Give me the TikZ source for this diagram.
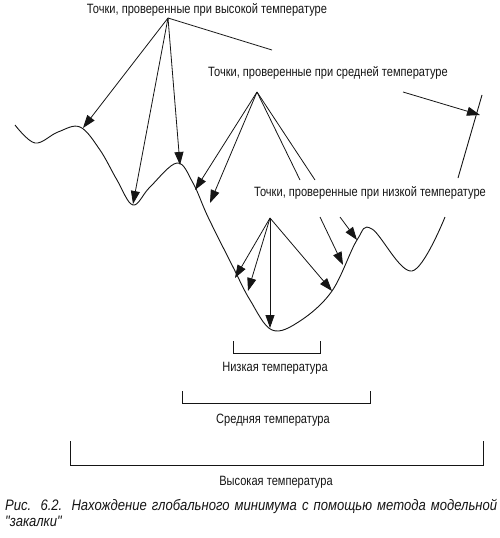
\documentclass[tikz,border=0pt]{standalone}
\usepackage{fontspec}
\setmainfont{Liberation Sans}[FakeStretch=0.82]
\newfontfamily\annealCaptionFont{Liberation Sans}[FakeStretch=0.86]
\usetikzlibrary{arrows.meta}
\definecolor{AnnealInk}{HTML}{151515}

\begin{document}
\begin{tikzpicture}[x=1pt,y=-1pt,
    probe/.style={AnnealInk,line width=0.8pt,-{Triangle[length=13pt,width=9pt]}},
    stub/.style={AnnealInk,line width=0.8pt},
    landscape/.style={AnnealInk,line width=0.9pt},
    span/.style={AnnealInk,line width=0.8pt},
    tag/.style={text=AnnealInk,inner sep=0pt,font=\fontsize{13.5}{15}\selectfont}]

        \useasboundingbox (0,0) rectangle (500,538);

        \draw[landscape] plot[smooth,tension=0.6] coordinates {
          (15,125) (35,143) (58,132) (80,127) (100,150) (117,180) (133,205)
          (150,187) (177,163) (193,183) (208,217) (233,267) (250,300)
          (272,330) (300,321) (332,291) (357,240) (372,229) (412,271)
          (445,217)};
        \draw[landscape] (458,178) -- (482,95);

        \node[tag] (hightxt) at (207,10) {Точки, проверенные при высокой температуре};
        \node[tag] (midtxt) at (328,73) {Точки, проверенные при средней температуре};
        \node[tag] (lowtxt) at (370,193) {Точки, проверенные при низкой температуре};

        \coordinate (highapex) at (168,18);
        \coordinate (midapex) at (257,92);
        \coordinate (lowapex) at (270,218);

        \coordinate (highpeak) at (83,128);
        \coordinate (highpit) at (133,204);
        \coordinate (highhill) at (180,165);
        \coordinate (highend) at (272,50);
        \draw[probe] (highapex) -- (highpeak);
        \draw[probe] (highapex) -- (highpit);
        \draw[probe] (highapex) -- (highhill);
        \draw[stub] (highapex) -- (highend);

        \coordinate (midslopeA) at (195,190);
        \coordinate (midslopeB) at (210,203);
        \coordinate (midendA) at (300,180);
        \coordinate (midendB) at (315,180);
        \coordinate (midfarA) at (403,92);
        \coordinate (midfarB) at (480,115);
        \draw[probe] (midapex) -- (midslopeA);
        \draw[probe] (midapex) -- (midslopeB);
        \draw[stub] (midapex) -- (midendA);
        \draw[stub] (midapex) -- (midendB);
        \draw[probe] (midfarA) -- (midfarB);

        \coordinate (lowslopeA) at (235,278);
        \coordinate (lowslopeB) at (248,291);
        \coordinate (lowbottom) at (270,328);
        \coordinate (lowrise) at (332,291);
        \coordinate (lowfarA) at (320,217);
        \coordinate (lowfarAtip) at (343,265);
        \coordinate (lowfarB) at (340,217);
        \coordinate (lowfarBtip) at (357,240);
        \draw[probe] (lowapex) -- (lowslopeA);
        \draw[probe] (lowapex) -- (lowslopeB);
        \draw[probe] (lowapex) -- (lowbottom);
        \draw[probe] (lowapex) -- (lowrise);
        \draw[probe] (lowfarA) -- (lowfarAtip);
        \draw[probe] (lowfarB) -- (lowfarBtip);

        \draw[span] (233,341) -- (233,353) -- (320,353) -- (320,341);
        \node[tag] (lowspan) at (275,368) {Низкая температура};

        \draw[span] (182,391) -- (182,403) -- (370,403) -- (370,391);
        \node[tag] (midspan) at (273,420) {Средняя температура};

        \draw[span] (70,441) -- (70,465) -- (483,465) -- (483,441);
        \node[tag] (highspan) at (276,482) {Высокая температура};

        \node[anchor=north west,text width=492pt,align=justify,inner sep=0pt,
          text=AnnealInk,font=\annealCaptionFont\itshape\fontsize{15.2}{16.5}\selectfont]
          (caption) at (5,499)
          {\hyphenpenalty=10000 Рис. 6.2. Нахождение глобального минимума с помощью метода модельной\linebreak "закалки"};

      \end{tikzpicture}
\end{document}
